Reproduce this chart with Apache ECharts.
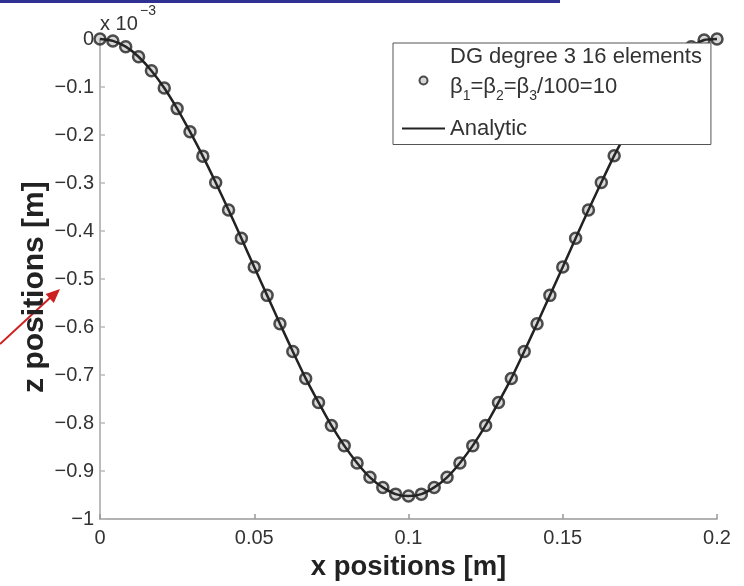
<!DOCTYPE html>
<html>
<head>
<meta charset="utf-8">
<title>Beam deflection: DG vs analytic</title>
<script src="https://cdn.jsdelivr.net/npm/echarts@6/dist/echarts.min.js"></script>
<style>
  html, body { margin: 0; padding: 0; background: #fff; }
  #chart { width: 744px; height: 586px; }
</style>
</head>
<body>
<div id="chart"></div>
<script>
// Node positions along the beam [m] (16 cubic elements -> 49 nodes)
const xNodes = [
  0, 0.00417, 0.00833, 0.0125, 0.01667, 0.02083, 0.025, 0.02917, 0.03333, 0.0375,
  0.04167, 0.04583, 0.05, 0.05417, 0.05833, 0.0625, 0.06667, 0.07083, 0.075, 0.07917,
  0.08333, 0.0875, 0.09167, 0.09583, 0.1, 0.10417, 0.10833, 0.1125, 0.11667, 0.12083,
  0.125, 0.12917, 0.13333, 0.1375, 0.14167, 0.14583, 0.15, 0.15417, 0.15833, 0.1625,
  0.16667, 0.17083, 0.175, 0.17917, 0.18333, 0.1875, 0.19167, 0.19583, 0.2
];

// DG solution, vertical position [x 1e-3 m]
const zDG = [
  0, -0.004, -0.016, -0.037, -0.066, -0.102, -0.145, -0.193, -0.244, -0.299,
  -0.356, -0.415, -0.475, -0.534, -0.593, -0.651, -0.707, -0.757, -0.805, -0.847,
  -0.883, -0.913, -0.934, -0.948, -0.952, -0.948, -0.934, -0.913, -0.883, -0.847,
  -0.805, -0.757, -0.707, -0.651, -0.593, -0.534, -0.475, -0.415, -0.356, -0.299,
  -0.243, -0.193, -0.145, -0.102, -0.066, -0.037, -0.016, -0.002, 0
];

// Analytic deflection at the same positions [x 1e-3 m]
const zAnalytic = [
  0, -0.004, -0.016, -0.037, -0.066, -0.102, -0.145, -0.193, -0.244, -0.299,
  -0.356, -0.415, -0.475, -0.534, -0.593, -0.651, -0.707, -0.757, -0.805, -0.847,
  -0.883, -0.913, -0.934, -0.948, -0.952, -0.948, -0.934, -0.913, -0.883, -0.847,
  -0.805, -0.757, -0.707, -0.651, -0.593, -0.534, -0.475, -0.415, -0.356, -0.299,
  -0.243, -0.193, -0.145, -0.102, -0.066, -0.037, -0.016, -0.002, 0
];

const xTickLabels = ['0', '0.05', '0.1', '0.15', '0.2'];
const yTickLabels = ['\u22121', '\u22120.9', '\u22120.8', '\u22120.7', '\u22120.6', '\u22120.5',
                     '\u22120.4', '\u22120.3', '\u22120.2', '\u22120.1', '0'];

const dgName = 'DG degree 3 16 elements';
const analyticName = 'Analytic';

const FONT = '"Liberation Sans", Arial, Helvetica, sans-serif';
const INK = '#222';

const chart = echarts.init(document.getElementById('chart'), null, { renderer: 'canvas' });

chart.setOption({
  backgroundColor: '#ffffff',
  animation: false,
  textStyle: { fontFamily: FONT },
  grid: { left: 100, right: 27, top: 39, bottom: 63, containLabel: false },
  xAxis: {
    type: 'value',
    min: 0, max: 0.2, interval: 0.05,
    name: 'x positions [m]',
    nameLocation: 'middle',
    nameGap: 29,
    nameTextStyle: { fontFamily: FONT, fontSize: 27.5, fontWeight: 'bold', color: INK },
    axisLine: { show: true, onZero: false, lineStyle: { color: '#999', width: 1.5 } },
    axisTick: { show: true, inside: true, length: 5, lineStyle: { color: '#999', width: 1.5 } },
    axisLabel: {
      margin: 9, fontSize: 20, color: '#333', fontFamily: FONT,
      formatter: (v, i) => xTickLabels[i]
    },
    splitLine: { show: false }
  },
  yAxis: {
    type: 'value',
    min: -1, max: 0, interval: 0.1,
    name: 'z positions [m]',
    nameLocation: 'middle',
    nameGap: 50,
    nameMoveOverlap: false,
    nameTextStyle: { fontFamily: FONT, fontSize: 30, fontWeight: 'bold', color: INK, padding: [0, 16, 0, 0] },
    axisLine: { show: true, onZero: false, lineStyle: { color: '#bbb', width: 2 } },
    axisTick: { show: true, inside: true, length: 5, lineStyle: { color: '#bbb', width: 1.5 } },
    axisLabel: {
      margin: 6, fontSize: 20, color: '#333', fontFamily: FONT,
      formatter: (v, i) => yTickLabels[i]
    },
    splitLine: { show: false }
  },
  legend: {
    orient: 'vertical',
    left: 393, top: 43,
    padding: [3, 9, 5, 8],
    itemGap: 2,
    itemWidth: 43,
    itemHeight: 8,
    backgroundColor: '#ffffff',
    borderColor: '#555',
    borderWidth: 1,
    borderRadius: 0,
    selectedMode: false,
    data: [
      { name: dgName, icon: 'circle' },
      { name: analyticName, itemStyle: { opacity: 0 } }
    ],
    formatter: name => {
      if (name === dgName) {
        return '{l1|' + dgName + '}\n' +
               '{t|\u03b2}{s|1}{t|=\u03b2}{s|2}{t|=\u03b2}{s|3}{t|/100=10}\n{e| }';
      }
      return '{a|' + name + '}';
    },
    textStyle: {
      fontFamily: FONT, fontSize: 22, color: '#333',
      rich: {
        l1: { fontFamily: FONT, fontSize: 22, lineHeight: 27, color: '#333' },
        t: { fontFamily: FONT, fontSize: 22, lineHeight: 33, color: '#333' },
        s: { fontFamily: FONT, fontSize: 14, lineHeight: 14, color: '#333', verticalAlign: 'bottom' },
        e: { fontSize: 10, lineHeight: 14 },
        a: { fontFamily: FONT, fontSize: 22, lineHeight: 27, color: '#333' }
      }
    }
  },
  series: [
    {
      name: analyticName,
      type: 'line',
      data: xNodes.map((x, i) => [x, zAnalytic[i]]),
      symbol: 'none',
      smooth: 0.2,
      clip: false,
      z: 2,
      lineStyle: { color: INK, width: 2.5 },
      itemStyle: { color: INK }
    },
    {
      name: dgName,
      type: 'scatter',
      data: xNodes.map((x, i) => [x, zDG[i]]),
      symbol: 'circle',
      symbolSize: 11,
      symbolKeepAspect: true,
      clip: false,
      z: 3,
      itemStyle: { color: 'rgba(60,60,60,0.25)', borderColor: INK, borderWidth: 2.5 }
    }
  ],
  graphic: [
    // slide header rule
    { type: 'rect', left: 0, top: 0, shape: { x: 0, y: 0, width: 560, height: 3 },
      style: { fill: '#2e3192' }, silent: true },
    // exponent of the z axis
    { type: 'text', x: 100, y: 24,
      style: { text: 'x 10', font: '20px ' + FONT, fill: '#333', verticalAlign: 'middle' } },
    { type: 'text', x: 140, y: 11,
      style: { text: '\u22123', font: '14px ' + FONT, fill: '#333', verticalAlign: 'middle' } },
    // pointer arrow
    { type: 'line', shape: { x1: 0, y1: 344, x2: 52, y2: 296 },
      style: { stroke: '#cc1f1f', lineWidth: 2 }, silent: true },
    { type: 'polygon', shape: { points: [[60, 289], [53.8, 302.9], [45.6, 294.1]] },
      style: { fill: '#cc1f1f' }, silent: true }
  ]
});
</script>
</body>
</html>
